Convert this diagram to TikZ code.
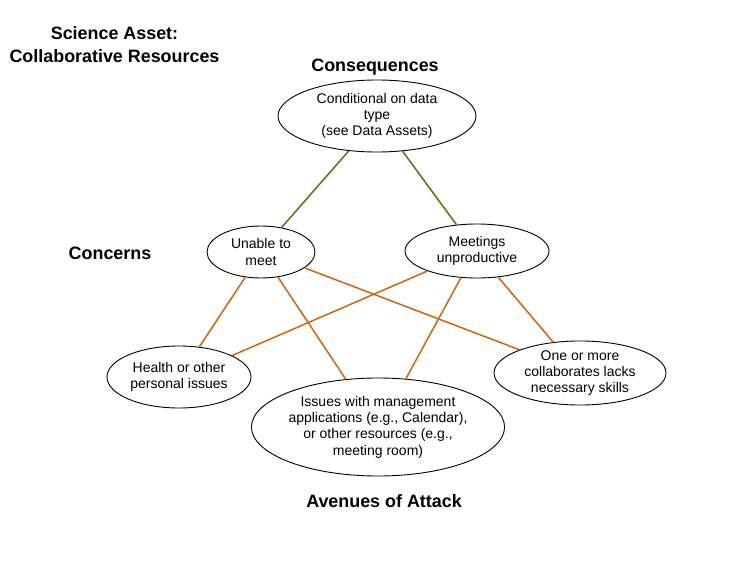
\documentclass[tikz,border=0pt]{standalone}
\usepackage{fontspec}
\setmainfont{Liberation Sans}
\usetikzlibrary{shapes.geometric}
\definecolor{cgreen}{RGB}{72,122,20}
\definecolor{corange}{RGB}{204,102,16}
\begin{document}
\begin{tikzpicture}[x=1pt,y=-1pt,
  ell/.style={ellipse,draw=black,line width=0.9pt,inner sep=0pt,align=center,
    font=\fontsize{14}{16.3}\selectfont,fill=white},
  hdr/.style={font=\fontsize{17.9}{23}\selectfont\bfseries,align=center},
  gl/.style={draw=cgreen,line width=1.5pt},
  ol/.style={draw=corange,line width=1.5pt}]
\useasboundingbox (0,0) rectangle (738,588);
\node[hdr] (title) at (114.5,45) {Science Asset:\\Collaborative Resources};
\node[hdr] (hcons) at (375,67.5) {Consequences};
\node[hdr] (hconc) at (110,253) {Concerns};
\node[hdr] (hav) at (384,501) {Avenues of Attack};

\node[ell,minimum width=198,minimum height=72] (cons) at (377,116) {Conditional on data\\type\\(see Data Assets)};
\node[ell,minimum width=108,minimum height=52] (unable) at (261,252) {Unable to\\meet};
\node[ell,minimum width=144,minimum height=54] (meet) at (477,251) {Meetings\\unproductive};
\node[ell,minimum width=144,minimum height=62] (health) at (179,377) {Health or other\\personal issues};
\node[ell,minimum width=252,minimum height=98] (issues) at (378,427) {Issues with management\\applications (e.g., Calendar),\\or other resources (e.g.,\\meeting room)};
\node[ell,minimum width=172,minimum height=64] (one) at (580,373) {One or more\\collaborates lacks\\necessary skills};

\draw[gl] (cons.-129) -- (unable.50);
\draw[gl] (cons.-54) -- (meet.128);
\draw[ol] (unable.-122) -- (health.56);
\draw[ol] (unable.-56) -- (issues.124);
\draw[ol] (unable.-20) -- (one.159);
\draw[ol] (meet.-158) -- (health.22);
\draw[ol] (meet.-121) -- (issues.60);
\draw[ol] (meet.-51) -- (one.131);
\end{tikzpicture}
\end{document}
